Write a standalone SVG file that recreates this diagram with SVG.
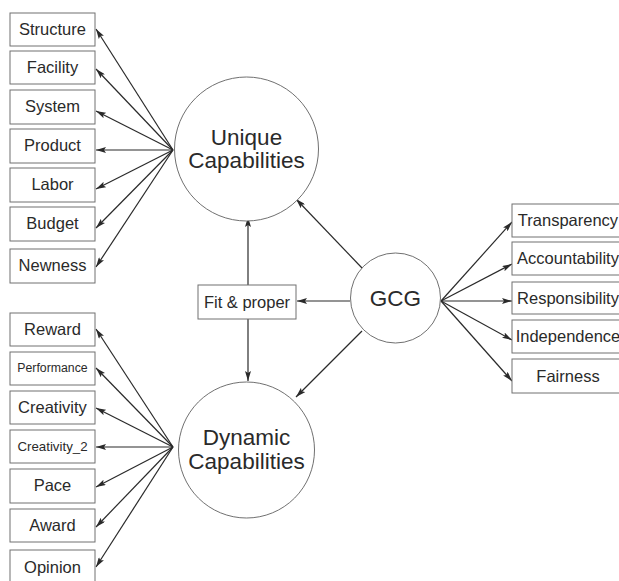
<svg xmlns="http://www.w3.org/2000/svg" width="619" height="581" viewBox="0 0 619 581">
<defs>
<marker id="ah" viewBox="0 0 10 6" refX="10" refY="3" markerWidth="10" markerHeight="6" markerUnits="userSpaceOnUse" orient="auto">
<path d="M0,0 L10,3 L0,6 L2,3 Z" fill="#2a2a2a"/>
</marker>
<style>
.box{fill:#fff;stroke:#707070;stroke-width:1}
.circ{fill:#fff;stroke:#606060;stroke-width:0.9}
.t{font-family:"Liberation Sans",Arial,sans-serif;font-size:16.5px;fill:#2a2a2a;text-anchor:middle}
.big{font-size:22.5px}
.c{stroke:#2a2a2a;stroke-width:1.2;fill:none;marker-end:url(#ah)}
</style>
</defs>
<rect width="619" height="581" fill="#fff"/>
<g id="connectors">
<line class="c" x1="173" y1="150" x2="96" y2="29"/>
<line class="c" x1="173" y1="150" x2="96" y2="69"/>
<line class="c" x1="173" y1="150" x2="96" y2="111"/>
<line class="c" x1="173" y1="150" x2="96" y2="150"/>
<line class="c" x1="173" y1="150" x2="96" y2="189"/>
<line class="c" x1="173" y1="150" x2="96" y2="228"/>
<line class="c" x1="173" y1="150" x2="96" y2="267"/>
<line class="c" x1="173" y1="447" x2="96" y2="329"/>
<line class="c" x1="173" y1="447" x2="96" y2="368"/>
<line class="c" x1="173" y1="447" x2="96" y2="408"/>
<line class="c" x1="173" y1="447" x2="96" y2="447"/>
<line class="c" x1="173" y1="447" x2="96" y2="487"/>
<line class="c" x1="173" y1="447" x2="96" y2="527"/>
<line class="c" x1="173" y1="447" x2="96" y2="567"/>
<line class="c" x1="248" y1="285" x2="248" y2="217"/>
<line class="c" x1="248" y1="319" x2="248" y2="381"/>
<line class="c" x1="350" y1="301" x2="297" y2="301"/>
<line class="c" x1="362" y1="268" x2="296" y2="199"/>
<line class="c" x1="362" y1="331" x2="296" y2="397"/>
<line class="c" x1="441" y1="301" x2="512" y2="222"/>
<line class="c" x1="441" y1="301" x2="512" y2="264"/>
<line class="c" x1="441" y1="301" x2="512" y2="301"/>
<line class="c" x1="441" y1="301" x2="512" y2="340"/>
<line class="c" x1="441" y1="301" x2="512" y2="381"/>
</g>
<g id="unique"><circle class="circ" cx="246.5" cy="149" r="72"/><text class="t big" x="246.5" y="145">Unique</text><text class="t big" x="246.5" y="168">Capabilities</text></g>
<g id="dynamic"><circle class="circ" cx="246.5" cy="450" r="68"/><text class="t big" x="246.5" y="445">Dynamic</text><text class="t big" x="246.5" y="469">Capabilities</text></g>
<g id="gcg"><circle class="circ" cx="395.5" cy="298" r="45"/><text class="t big" x="395.5" y="306">GCG</text></g>
<g id="fit"><rect class="box" x="198" y="285" width="98" height="34"/><text class="t" x="247" y="308">Fit &amp; proper</text></g>
<g id="structure"><rect class="box" x="10" y="13" width="85" height="33"/><text class="t" x="52.5" y="35">Structure</text></g>
<g id="facility"><rect class="box" x="10" y="51" width="85" height="33"/><text class="t" x="52.5" y="73">Facility</text></g>
<g id="system"><rect class="box" x="10" y="90" width="85" height="34"/><text class="t" x="52.5" y="112">System</text></g>
<g id="product"><rect class="box" x="10" y="129" width="85" height="34"/><text class="t" x="52.5" y="151">Product</text></g>
<g id="labor"><rect class="box" x="10" y="168" width="85" height="34"/><text class="t" x="52.5" y="190">Labor</text></g>
<g id="budget"><rect class="box" x="10" y="207" width="85" height="34"/><text class="t" x="52.5" y="229">Budget</text></g>
<g id="newness"><rect class="box" x="10" y="249" width="85" height="34"/><text class="t" x="52.5" y="271">Newness</text></g>
<g id="reward"><rect class="box" x="10" y="313" width="85" height="33"/><text class="t" x="52.5" y="335">Reward</text></g>
<g id="performance"><rect class="box" x="10" y="352" width="85" height="33"/><text class="t" x="52.5" y="372" style="font-size:12.3px">Performance</text></g>
<g id="creativity"><rect class="box" x="10" y="391" width="85" height="33"/><text class="t" x="52.5" y="413">Creativity</text></g>
<g id="creativity2"><rect class="box" x="10" y="430" width="85" height="33"/><text class="t" x="52.5" y="451" style="font-size:13.3px">Creativity_2</text></g>
<g id="pace"><rect class="box" x="10" y="469" width="85" height="34"/><text class="t" x="52.5" y="491">Pace</text></g>
<g id="award"><rect class="box" x="10" y="509" width="85" height="33"/><text class="t" x="52.5" y="531">Award</text></g>
<g id="opinion"><rect class="box" x="10" y="550" width="85" height="34"/><text class="t" x="52.5" y="573">Opinion</text></g>
<g id="transparency"><rect class="box" x="512" y="204" width="113" height="33"/><text class="t" x="568" y="226">Transparency</text></g>
<g id="accountability"><rect class="box" x="512" y="242" width="113" height="33"/><text class="t" x="568" y="264">Accountability</text></g>
<g id="responsibility"><rect class="box" x="512" y="282" width="113" height="32"/><text class="t" x="568" y="304">Responsibility</text></g>
<g id="independence"><rect class="box" x="512" y="320" width="113" height="33"/><text class="t" x="568" y="342">Independence</text></g>
<g id="fairness"><rect class="box" x="512" y="359" width="113" height="34"/><text class="t" x="568" y="382">Fairness</text></g>
</svg>
